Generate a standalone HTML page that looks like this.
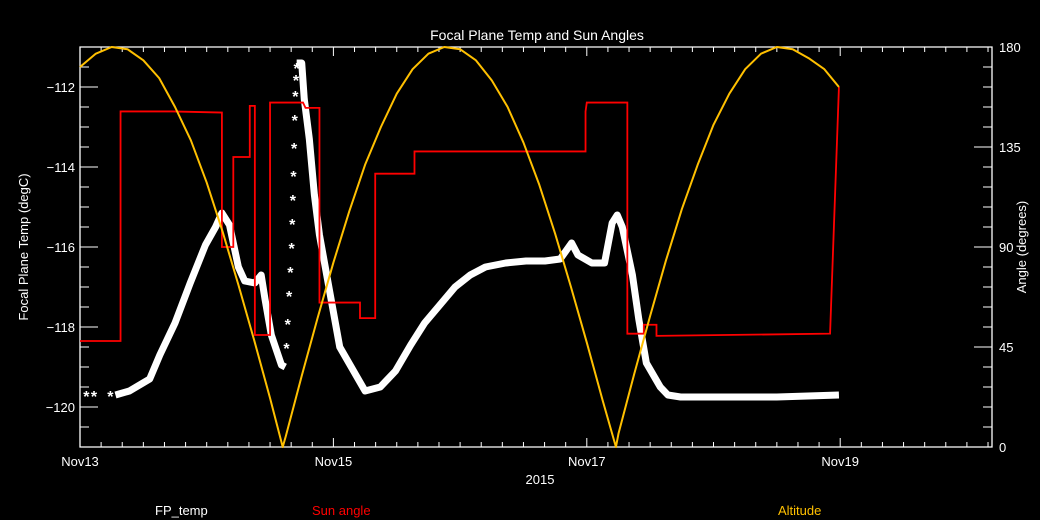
<!DOCTYPE html>
<html><head><meta charset="utf-8"><style>
html,body{margin:0;padding:0;background:#000;}
svg{display:block;font-family:"Liberation Sans",sans-serif;}
</style></head><body>
<svg id="chart" width="1040" height="520" viewBox="0 0 1040 520">
<rect width="1040" height="520" fill="#000"/>
<g id="axes"></g>
<g id="series"></g>
<text x="537" y="40" fill="#fff" font-size="14" text-anchor="middle">Focal Plane Temp and Sun Angles</text>
<text x="540" y="484" fill="#fff" font-size="13" text-anchor="middle">2015</text>
<text transform="translate(28,247) rotate(-90)" fill="#fff" font-size="13" text-anchor="middle">Focal Plane Temp (degC)</text>
<text transform="translate(1026,247) rotate(-90)" fill="#fff" font-size="13" text-anchor="middle">Angle (degrees)</text>
<text x="155" y="515" fill="#fff" font-size="13">FP_temp</text>
<text x="312" y="515" fill="#ff0000" font-size="13">Sun angle</text>
<text x="778" y="515" fill="#ffc000" font-size="13">Altitude</text>
</svg>
<script>
// data (days since Nov13 00:00)
const xTickLabels = ["Nov13","Nov15","Nov17","Nov19"];
const xTickDays = [0,2,4,6];
const yTickLabels = ["-120","-118","-116","-114","-112"];
const y2TickLabels = ["0","45","90","135","180"];
const tempDays1 = [0.28,0.39,0.55,0.63,0.75,0.87,0.99,1.07,1.12,1.18,1.25,1.30,1.38,1.43,1.46,1.51,1.59,1.62];
const tempValues1 = [-119.7,-119.6,-119.3,-118.7,-117.9,-116.9,-115.95,-115.5,-115.15,-115.45,-116.5,-116.85,-116.9,-116.7,-117.3,-118.2,-118.95,-119.0];
const tempDays2 = [1.71,1.75,1.77,1.81,1.85,1.89,1.97,2.05,2.25,2.37,2.49,2.61,2.72,2.84,2.96,3.08,3.20,3.36,3.52,3.67,3.79,3.88,3.93,4.04,4.14,4.20,4.24,4.28,4.36,4.41,4.47,4.58,4.64,4.74,5.00,5.25,5.50,5.99];
const tempValues2 = [-111.4,-111.4,-112.3,-113.3,-114.7,-115.7,-117.1,-118.5,-119.6,-119.5,-119.1,-118.45,-117.9,-117.45,-117.0,-116.7,-116.5,-116.4,-116.35,-116.35,-116.3,-115.9,-116.2,-116.4,-116.4,-115.4,-115.2,-115.5,-116.7,-117.8,-118.9,-119.5,-119.7,-119.75,-119.75,-119.75,-119.75,-119.7];
const sparseDays = [0.05,0.11,0.24,1.63,1.64,1.65,1.66,1.67,1.675,1.68,1.685,1.69,1.695,1.70,1.705,1.71];
const sparseValues = [-119.7,-119.7,-119.7,-118.5,-117.9,-117.2,-116.6,-116.0,-115.4,-114.8,-114.2,-113.5,-112.8,-112.2,-111.8,-111.5];
const sunDays = [0,0.32,0.32,0.73,1.12,1.12,1.21,1.21,1.34,1.34,1.38,1.38,1.50,1.50,1.76,1.78,1.89,1.89,2.21,2.21,2.33,2.33,2.64,2.64,3.99,3.99,4.00,4.32,4.32,4.45,4.45,4.55,4.55,5.92,5.99];
const sunValues = [47.7,47.7,151,151,150.5,90,90,130.5,130.5,153.5,153.5,50.4,50.4,155,155,152.6,152.6,65,65,58,58,123,123,133,133,151,155,155,51,51,55,55,50,51,162];
const altDays = [0,0.125,0.25,0.375,0.5,0.625,0.75,0.875,1.0,1.125,1.25,1.375,1.5,1.6,1.625,1.75,1.875,2.0,2.125,2.25,2.375,2.5,2.625,2.75,2.875,3.0,3.125,3.25,3.375,3.5,3.625,3.75,3.875,4.0,4.125,4.23,4.25,4.375,4.5,4.625,4.75,4.875,5.0,5.125,5.25,5.375,5.5,5.625,5.75,5.875,5.99];
const altValues = [171,177,180,179,174,166,153,138,119,97,73,48,22,0,5,32,58,83,106,127,144,159,170,177,180,179,174,165,153,137,118,96,72,47,21,0,6,33,59,84,107,127,145,159,170,177,180,179,175,170,162];

const NS="http://www.w3.org/2000/svg";
const L=80,R=992,T=47,B=447,DPX=126.7;
const xs=d=>L+d*DPX;
const yT=v=>B-(v+121)*40;
const yA=a=>B-a*400/180;
const axes=document.getElementById('axes'), ser=document.getElementById('series');
function mk(tag,attrs,parent){const e=document.createElementNS(NS,tag);for(const k in attrs)e.setAttribute(k,attrs[k]);parent.appendChild(e);return e;}
const frame=mk('path',{d:`M${L},${T}H${R}V${B}H${L}Z`,stroke:'#fff','stroke-width':1.3,fill:'none'},axes);


for(let i=0;i<=43;i++){const x=xs(i/6);if(x>R+0.5)break;const big=i%12===0;
 mk('line',{x1:x,x2:x,y1:B,y2:B-(big?9:5),stroke:'#fff'},axes);
 mk('line',{x1:x,x2:x,y1:T,y2:T+(big?9:5),stroke:'#fff'},axes);}
xTickLabels.forEach((s,i)=>{const t=mk('text',{x:xs(xTickDays[i]),y:466,fill:'#fff','font-size':13,'text-anchor':'middle'},axes);t.textContent=s;
 
 });
for(let v=-121;v<=-111.01;v+=0.5){const y=yT(v);const big=Math.abs(v%2)===0;mk('line',{x1:L,x2:L+(big?18:9),y1:y,y2:y,stroke:'#fff'},axes);}
yTickLabels.forEach((s,i)=>{const t=mk('text',{x:75,y:yT(-120+2*i)+5,fill:'#fff','font-size':13,'text-anchor':'end'},axes);t.textContent=s.replace('-','\u2212');
 
 });
for(let a=0;a<=180;a+=9){const y=yA(a);const big=a%45===0;mk('line',{x1:R,x2:R-(big?18:9),y1:y,y2:y,stroke:'#fff'},axes);}
y2TickLabels.forEach((s,i)=>{const t=mk('text',{x:999,y:yA(45*i)+5,fill:'#fff','font-size':13},axes);t.textContent=s;
 
 });
const tl1=mk('polyline',{points:tempDays1.map((d,i)=>xs(d)+','+yT(tempValues1[i])).join(' '),stroke:'#fff','stroke-width':7,fill:'none','stroke-linejoin':'round'},ser);


const tl2=mk('polyline',{points:tempDays2.map((d,i)=>xs(d)+','+yT(tempValues2[i])).join(' '),stroke:'#fff','stroke-width':7,fill:'none','stroke-linejoin':'round'},ser);


sparseDays.forEach((d,i)=>{const t=mk('text',{x:xs(d),y:yT(sparseValues[i])+7,fill:'#fff','font-size':16,'font-weight':'bold','text-anchor':'middle'},ser);t.textContent='*';
 
 });
const sl=mk('polyline',{points:sunDays.map((d,i)=>xs(d)+','+yA(sunValues[i])).join(' '),stroke:'#ff0000','stroke-width':1.8,fill:'none'},ser);


const al=mk('polyline',{points:altDays.map((d,i)=>xs(d)+','+yA(altValues[i])).join(' '),stroke:'#ffc000','stroke-width':2,fill:'none','stroke-linejoin':'round'},ser);


</script>
</body></html>
